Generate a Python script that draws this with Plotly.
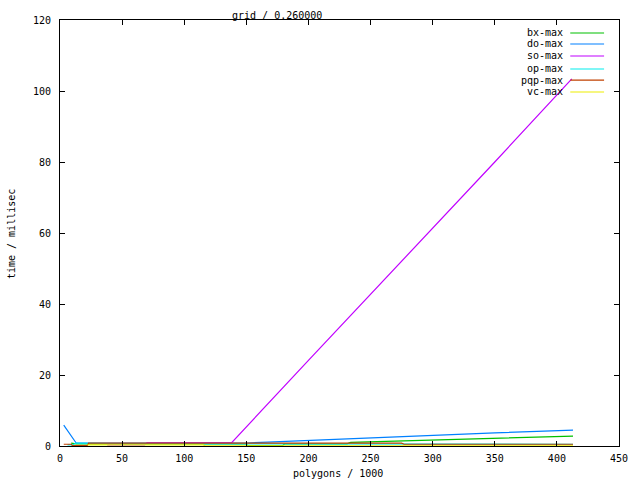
import plotly.graph_objects as go

# ---- data ----
bx_x = [9, 13, 30, 60, 100, 150, 151, 179, 181, 231, 234, 280, 330, 380, 413]
bx_y = [0.8, 0.6, 0.6, 0.6, 0.6, 0.6, 0.1, 0.1, 0.6, 0.6, 1.0, 1.5, 2.0, 2.4, 2.8]

do_x = [3, 13, 50, 100, 150, 167, 200, 250, 300, 350, 413]
do_y = [5.9, 0.85, 0.85, 0.85, 0.85, 1.1, 1.6, 2.3, 3.0, 3.7, 4.5]

so_x = [38, 68, 70, 100, 138, 200, 250, 300, 350, 412]
so_y = [0.3, 0.3, 0.9, 0.9, 0.9, 24.1, 42.7, 61.4, 80.0, 103.4]

op_x = [6, 10, 13, 50, 100, 150, 200, 250, 300, 350, 413]
op_y = [0.3, 0.3, 0.85, 0.6, 0.6, 0.6, 0.5, 0.5, 0.5, 0.5, 0.5]

pqp_x = [3, 9, 10, 22, 23, 100, 150, 200, 275, 277, 350, 413]
pqp_y = [0.5, 0.5, 0.1, 0.1, 0.8, 0.8, 0.8, 0.8, 0.8, 0.5, 0.5, 0.5]

vc_x = [22, 50, 80, 115, 117, 200, 300, 413]
vc_y = [0.3, 0.3, 0.3, 0.3, 0.05, 0.05, 0.05, 0.05]

names = ["bx-max", "do-max", "so-max", "op-max", "pqp-max", "vc-max"]
colors = ["#00c000", "#0080ff", "#c000ff", "#00eeee", "#c04000", "#eeee00"]
xs = [bx_x, do_x, so_x, op_x, pqp_x, vc_x]
ys = [bx_y, do_y, so_y, op_y, pqp_y, vc_y]

x_ticks = [0, 50, 100, 150, 200, 250, 300, 350, 400, 450]
y_ticks = [0, 20, 40, 60, 80, 100, 120]

FONT = "DejaVu Sans Mono"

fig = go.Figure()
for n, c, x, y in zip(names, colors, xs, ys):
    fig.add_trace(go.Scatter(x=x, y=y, mode="lines", name=n,
                             line=dict(color=c, width=1.2), showlegend=False))

# gnuplot-style legend: right-aligned text followed by a line sample
row_y = [0.9695, 0.9437, 0.9155, 0.885, 0.859, 0.831]
for n, c, ry in zip(names, colors, row_y):
    fig.add_annotation(x=0.903, y=ry, xref="paper", yref="paper", text=n,
                       showarrow=False, xanchor="right", yanchor="middle",
                       font=dict(family=FONT, size=10, color="black"))
    fig.add_shape(type="line", xref="paper", yref="paper",
                  x0=0.9128, x1=0.9733, y0=ry, y1=ry,
                  line=dict(color=c, width=1.2))

# title and axis titles placed like gnuplot
fig.add_annotation(x=0.388, y=1.0117, xref="paper", yref="paper",
                   text="grid / 0.260000", showarrow=False,
                   xanchor="center", yanchor="middle",
                   font=dict(family=FONT, size=10, color="black"))
fig.add_annotation(x=0.498, y=-0.0634, xref="paper", yref="paper",
                   text="polygons / 1000", showarrow=False,
                   xanchor="center", yanchor="middle",
                   font=dict(family=FONT, size=10, color="black"))
fig.add_annotation(x=-0.0855, y=0.498, xref="paper", yref="paper",
                   text="time / millisec", showarrow=False, textangle=-90,
                   xanchor="center", yanchor="middle",
                   font=dict(family=FONT, size=10, color="black"))

fig.update_layout(
    width=640, height=480,
    margin=dict(l=60, r=18, t=20, b=34),
    paper_bgcolor="white", plot_bgcolor="white",
    font=dict(family=FONT, size=10, color="black"),
    xaxis=dict(range=[0, 450], tickvals=x_ticks, ticks="inside", ticklen=5,
               tickcolor="black", showline=True, linecolor="black",
               linewidth=1, mirror="ticks", showgrid=False, zeroline=False,
               ticklabelstandoff=3),
    yaxis=dict(range=[0, 120], tickvals=y_ticks, ticks="inside", ticklen=5,
               tickcolor="black", showline=True, linecolor="black",
               linewidth=1, mirror="ticks", showgrid=False, zeroline=False,
               ticklabelstandoff=6),
)

# remove the page's default body margin so the 640x480 figure fills the window
fig.write_html("out.html",
               config={"displayModeBar": False},
               post_script="document.body.style.margin='0';"
                           "document.body.style.overflow='hidden';")
